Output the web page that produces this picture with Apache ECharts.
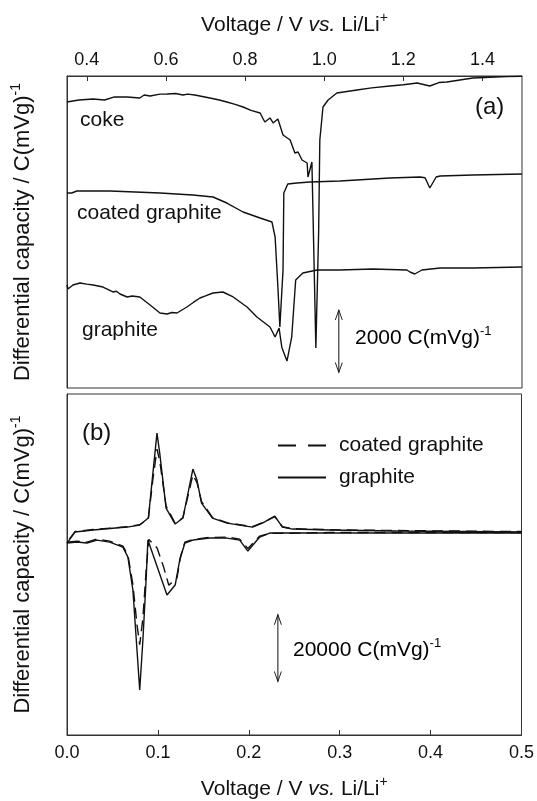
<!DOCTYPE html>
<html>
<head>
<meta charset="utf-8">
<script src="https://cdn.jsdelivr.net/npm/echarts/dist/echarts.min.js"></script>
<style>
  html, body { margin: 0; padding: 0; background: #ffffff; }
  #chart { width: 537px; height: 801px; }
</style>
</head>
<body>
<div id="chart"></div>
<script>
// ---- Panel (a): first-cycle differential capacity, voltage in V vs. Li/Li+ ----
const cokeVoltage = [0.350, 0.380, 0.416, 0.445, 0.470, 0.502, 0.534, 0.545, 0.560, 0.585, 0.603, 0.625, 0.643, 0.655, 0.673, 0.711, 0.735, 0.754, 0.775, 0.795, 0.815, 0.838, 0.850, 0.863, 0.871, 0.883, 0.896, 0.914, 0.926, 0.934, 0.944, 0.957, 0.959, 0.969, 0.979, 0.986, 0.989, 0.997, 1.010, 1.032, 1.083, 1.120, 1.166, 1.200, 1.235, 1.267, 1.290, 1.310, 1.376, 1.462, 1.500];
const cokeDC      = [9167, 9230, 9263, 9230, 9330, 9327, 9295, 9390, 9359, 9420, 9423, 9440, 9391, 9420, 9390, 9295, 9230, 9167, 9090, 9006, 8900, 8814, 8526, 8654, 8494, 8622, 8109, 7949, 7532, 7564, 7308, 7212, 6763, 7244, 1282, 5000, 7949, 9006, 9231, 9455, 9551, 9620, 9679, 9720, 9776, 9679, 9790, 9808, 9936, 9980, 9990];

const coatedVoltage = [0.350, 0.355, 0.362, 0.375, 0.459, 0.585, 0.668, 0.719, 0.754, 0.795, 0.838, 0.868, 0.876, 0.883, 0.888, 0.896, 0.898, 0.908, 0.931, 0.964, 1.040, 1.166, 1.242, 1.255, 1.267, 1.283, 1.293, 1.376, 1.500];
const coatedDC      = [6250, 6186, 6250, 6314, 6314, 6250, 6186, 6122, 5929, 5641, 5449, 5320, 4840, 3237, 1955, 3782, 6250, 6538, 6570, 6602, 6634, 6730, 6763, 6740, 6410, 6763, 6795, 6827, 6859];

const graphiteVoltage = [0.350, 0.3525, 0.365, 0.383, 0.400, 0.416, 0.441, 0.466, 0.475, 0.484, 0.502, 0.515, 0.534, 0.560, 0.585, 0.603, 0.615, 0.628, 0.653, 0.670, 0.686, 0.700, 0.719, 0.744, 0.770, 0.805, 0.830, 0.863, 0.876, 0.886, 0.893, 0.906, 0.918, 0.928, 0.946, 0.982, 1.040, 1.123, 1.209, 1.217, 1.229, 1.247, 1.293, 1.376, 1.500];
const graphiteDC      = [3301, 3173, 3301, 3365, 3330, 3301, 3237, 3077, 3100, 3013, 2917, 2950, 2917, 2660, 2404, 2372, 2420, 2404, 2596, 2750, 2885, 2950, 3045, 3077, 2917, 2596, 2276, 1955, 1635, 1923, 1300, 865, 1635, 3462, 3686, 3782, 3782, 3814, 3782, 3718, 3654, 3782, 3846, 3846, 3878];

// ---- Panel (b): cyclic scans, lithiation branch (0.5 -> 0 V) then delithiation (0 -> 0.5 V) ----
const graphiteCvVoltage = [0.500, 0.363, 0.289, 0.256, 0.223, 0.212, 0.199, 0.190, 0.176, 0.157, 0.1385, 0.1297, 0.124, 0.119, 0.110, 0.089, 0.087, 0.0835, 0.080, 0.077, 0.0725, 0.067, 0.0615, 0.047, 0.033, 0.022, 0.011, 0.000,
                           0.000, 0.0088, 0.0286, 0.066, 0.080, 0.0895, 0.0945, 0.099, 0.102, 0.109, 0.119, 0.1275, 0.1385, 0.143, 0.148, 0.160, 0.176, 0.190, 0.204, 0.215, 0.2286, 0.237, 0.248, 0.289, 0.363, 0.500];
const graphiteCvDC      = [-598, -598, -598, -598, -598, -1795, -5982, -2692, -2094, -2094, -2692, -3589, -8674, -16151, -19142, -2692, -14656, -32602, -47557, -35593, -17647, -7777, -4786, -3290, -2692, -3589, -3290, -3589,
                           -4187, -299, 299, 1196, 1795, 3888, 17348, 29312, 23330, 6879, 2094, 3888, 18544, 15254, 8375, 3888, 2393, 1795, 1196, 2393, 4487, 1196, 598, 299, 0, -299];

const coatedCvVoltage = [0.500, 0.363, 0.289, 0.256, 0.223, 0.212, 0.199, 0.190, 0.176, 0.157, 0.1385, 0.1297, 0.125, 0.121, 0.112, 0.106, 0.099, 0.090, 0.087, 0.0835, 0.080, 0.077, 0.0725, 0.067, 0.0615, 0.047, 0.033, 0.022, 0.011, 0.000,
                         0.000, 0.0088, 0.0286, 0.066, 0.080, 0.0895, 0.0945, 0.099, 0.102, 0.109, 0.119, 0.1275, 0.1385, 0.143, 0.148, 0.160, 0.176, 0.190, 0.204, 0.215, 0.2286, 0.237, 0.248, 0.289, 0.363, 0.500];
const coatedCvDC      = [-450, -450, -450, -600, -700, -1500, -5200, -2400, -1800, -1900, -2500, -3300, -7500, -14000, -16200, -10500, -5000, -2500, -12000, -26000, -34000, -28000, -16000, -7200, -4500, -3000, -2400, -3300, -3000, -3300,
                         -3800, -150, 450, 1300, 1900, 3700, 15500, 24500, 21000, 7500, 2300, 4000, 16800, 14500, 8800, 4100, 2500, 1900, 1300, 2500, 4300, 1300, 700, 400, 150, -150];

// ---- Scale bars (arrow spans) ----
const scaleA = { voltage: 1.037, from: 500, to: 2500 };      // 2000 C(mVg)^-1
const scaleB = { voltage: 0.232, from: -45000, to: -25000 }; // 20000 C(mVg)^-1

const FONT = '"Liberation Sans", Arial, Helvetica, sans-serif';
const INK = '#111';

function zip(xs, ys) { return xs.map((x, i) => [x, ys[i]]); }

function curve(name, xs, ys, gi, dashed) {
  return {
    name: name, type: 'line', xAxisIndex: gi, yAxisIndex: gi,
    data: zip(xs, ys), symbol: 'none', silent: true, animation: false,
    lineStyle: { color: INK, width: 1.4, type: dashed ? [11, 6] : 'solid' },
    itemStyle: { color: INK }
  };
}

function scaleBar(bar, gi) {
  return {
    type: 'line', xAxisIndex: gi, yAxisIndex: gi, silent: true, animation: false,
    symbol: 'path://M0,10 L5,0 L10,10', symbolSize: [7, 10],
    itemStyle: { color: 'rgba(0,0,0,0)', borderColor: INK, borderWidth: 1 },
    lineStyle: { color: INK, width: 1 },
    data: [
      { value: [bar.voltage, bar.from], symbolRotate: 180, symbolOffset: [0, -5] },
      { value: [bar.voltage, bar.to], symbolOffset: [0, 5] }
    ]
  };
}

const voltRich = {
  n: { fontSize: 21, color: INK, fontFamily: FONT },
  i: { fontSize: 21, color: INK, fontFamily: FONT, fontStyle: 'italic' },
  s: { fontSize: 14, color: INK, fontFamily: FONT, padding: [0, 0, 14, 0] }
};
const capRich = {
  t: { fontSize: 21, color: INK, fontFamily: FONT },
  s: { fontSize: 13, color: INK, fontFamily: FONT, padding: [0, 0, 14, 0] }
};
const axisCapRich = {
  t: { fontSize: 22, color: INK, fontFamily: FONT },
  s: { fontSize: 14, color: INK, fontFamily: FONT, padding: [0, 0, 14, 0] }
};
const voltName = '{n|Voltage / V }{i|vs.}{n| Li/Li}{s|+}';
const capName = '{t|Differential capacity / C(mVg)}{s|-1}';

const frame = { show: true, onZero: false, lineStyle: { color: '#333', width: 1 } };

const option = {
  backgroundColor: '#ffffff',
  animation: false,
  grid: [
    { left: 67, top: 76, width: 455, height: 312, show: true, borderColor: '#333', borderWidth: 1 },
    { left: 67, top: 394, width: 455, height: 341, show: true, borderColor: '#333', borderWidth: 1 }
  ],
  xAxis: [
    {
      gridIndex: 0, type: 'value', position: 'top', min: 0.35, max: 1.5,
      axisLine: frame,
      axisTick: { show: true, inside: true, length: 5, lineStyle: { color: '#333' } },
      axisLabel: { showMinLabel: false, showMaxLabel: false, margin: 7, fontSize: 18, color: INK, fontFamily: FONT,
                   formatter: v => v.toFixed(1) },
      splitLine: { show: false },
      name: voltName, nameLocation: 'middle', nameGap: 37, nameTextStyle: { rich: voltRich }
    },
    {
      gridIndex: 1, type: 'value', position: 'bottom', min: 0, max: 0.5, interval: 0.1,
      axisLine: frame,
      axisTick: { show: true, inside: true, length: 5, lineStyle: { color: '#333' } },
      axisLabel: { margin: 9, fontSize: 18, color: INK, fontFamily: FONT, formatter: v => v.toFixed(1) },
      splitLine: { show: false },
      name: voltName, nameLocation: 'middle', nameGap: 40, nameTextStyle: { rich: voltRich }
    }
  ],
  yAxis: [
    {
      gridIndex: 0, type: 'value', min: 0, max: 10000,
      axisLine: frame, axisTick: { show: false }, axisLabel: { show: false }, splitLine: { show: false },
      name: capName, nameLocation: 'middle', nameRotate: 90, nameGap: 30, nameTextStyle: { rich: axisCapRich }
    },
    {
      gridIndex: 1, type: 'value', min: -61000, max: 41000,
      axisLine: frame, axisTick: { show: false }, axisLabel: { show: false }, splitLine: { show: false },
      name: capName, nameLocation: 'middle', nameRotate: 90, nameGap: 30, nameTextStyle: { rich: axisCapRich }
    }
  ],
  legend: {
    data: [
      { name: 'coated graphite', lineStyle: { type: [18, 12] } },
      { name: 'graphite' }
    ],
    orient: 'vertical', left: 272, top: 430, itemWidth: 48, itemHeight: 14, itemGap: 11,
    selectedMode: false,
    itemStyle: { opacity: 0 },
    textStyle: { fontSize: 21, color: INK, fontFamily: FONT, padding: [0, 0, 0, 8] }
  },
  series: [
    curve('coke', cokeVoltage, cokeDC, 0, false),
    curve('coated graphite (first cycle)', coatedVoltage, coatedDC, 0, false),
    curve('graphite (first cycle)', graphiteVoltage, graphiteDC, 0, false),
    curve('coated graphite', coatedCvVoltage, coatedCvDC, 1, true),
    curve('graphite', graphiteCvVoltage, graphiteCvDC, 1, false),
    scaleBar(scaleA, 0),
    scaleBar(scaleB, 1)
  ],
  graphic: [
    { type: 'text', x: 80, y: 120, style: { text: 'coke', font: '21px ' + FONT, fill: INK, verticalAlign: 'middle' } },
    { type: 'text', x: 77, y: 213, style: { text: 'coated graphite', font: '21px ' + FONT, fill: INK, verticalAlign: 'middle' } },
    { type: 'text', x: 82, y: 330, style: { text: 'graphite', font: '21px ' + FONT, fill: INK, verticalAlign: 'middle' } },
    { type: 'text', x: 475, y: 107, style: { text: '(a)', font: '24px ' + FONT, fill: INK, verticalAlign: 'middle' } },
    { type: 'text', x: 82, y: 433, style: { text: '(b)', font: '24px ' + FONT, fill: INK, verticalAlign: 'middle' } },
    { type: 'text', x: 355, y: 338, style: { text: '{t|2000 C(mVg)}{s|-1}', rich: capRich, verticalAlign: 'middle' } },
    { type: 'text', x: 293, y: 650, style: { text: '{t|20000 C(mVg)}{s|-1}', rich: capRich, verticalAlign: 'middle' } }
  ]
};

const chart = echarts.init(document.getElementById('chart'), null, { renderer: 'canvas' });
chart.setOption(option);
</script>
</body>
</html>
